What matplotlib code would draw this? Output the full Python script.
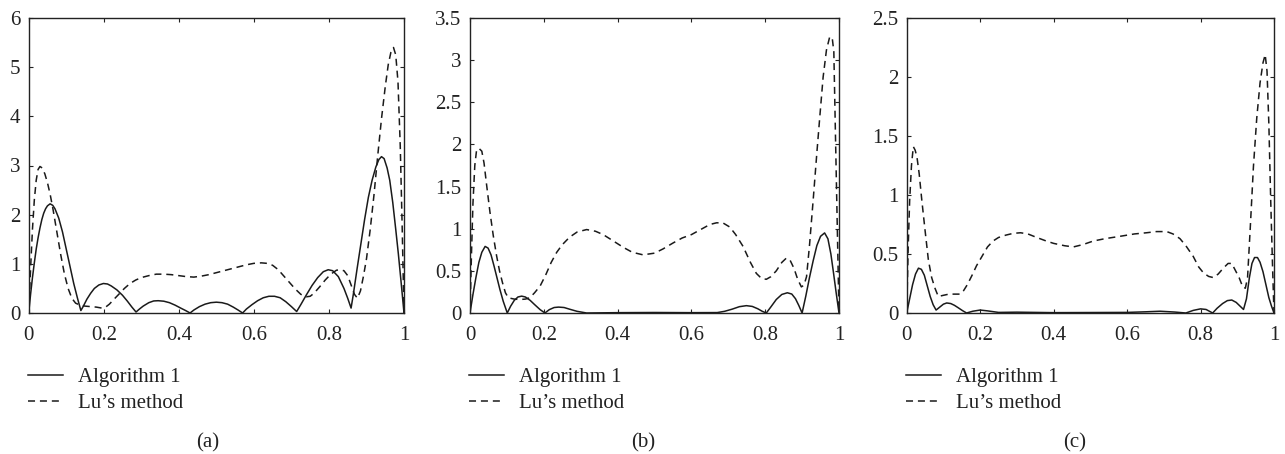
import matplotlib
matplotlib.use("Agg")
import matplotlib.pyplot as plt

plt.rcParams['font.family'] = ['Liberation Serif', 'DejaVu Serif']

# ---------------- Panel (a) ----------------
xa_alg = [0, 0.005, 0.01, 0.015, 0.02, 0.025, 0.03, 0.035, 0.04, 0.045, 0.05, 0.057, 0.064, 0.07,
          0.08, 0.09, 0.10, 0.11, 0.12, 0.13, 0.139,
          0.145, 0.155, 0.165, 0.175, 0.187, 0.199, 0.21, 0.22, 0.235, 0.25, 0.263, 0.275, 0.286,
          0.295, 0.305, 0.32, 0.333, 0.345, 0.36, 0.375, 0.39, 0.405, 0.418, 0.43,
          0.44, 0.455, 0.47, 0.485, 0.5, 0.515, 0.53, 0.545, 0.558, 0.57,
          0.58, 0.595, 0.61, 0.625, 0.64, 0.655, 0.67, 0.685, 0.70, 0.714,
          0.725, 0.74, 0.755, 0.77, 0.785, 0.798, 0.81, 0.825, 0.84, 0.85, 0.859,
          0.865, 0.875, 0.885, 0.895, 0.905, 0.915, 0.925, 0.933, 0.94, 0.947, 0.955, 0.962,
          0.97, 0.978, 0.985, 0.992, 1.0]
ya_alg = [0, 0.38, 0.72, 1.02, 1.3, 1.53, 1.73, 1.9, 2.03, 2.12, 2.18, 2.22, 2.19, 2.12,
          1.93, 1.65, 1.3, 0.95, 0.6, 0.3, 0.05,
          0.13, 0.28, 0.4, 0.5, 0.57, 0.6, 0.59, 0.55, 0.47, 0.36, 0.24, 0.12, 0.02,
          0.08, 0.14, 0.21, 0.245, 0.25, 0.24, 0.21, 0.16, 0.1, 0.05, 0.0,
          0.06, 0.13, 0.18, 0.21, 0.22, 0.21, 0.18, 0.12, 0.06, 0.0,
          0.08, 0.17, 0.25, 0.31, 0.34, 0.34, 0.31, 0.23, 0.13, 0.03,
          0.17, 0.37, 0.56, 0.72, 0.84, 0.88, 0.86, 0.74, 0.5, 0.3, 0.1,
          0.38, 0.9, 1.4, 1.9, 2.35, 2.7, 2.97, 3.12, 3.18, 3.14, 2.95, 2.7,
          2.25, 1.7, 1.2, 0.65, 0.0]
xa_lu = [0, 0.005, 0.01, 0.015, 0.02, 0.025, 0.030, 0.036, 0.043, 0.05, 0.057, 0.065, 0.075,
         0.085, 0.095, 0.105, 0.115, 0.125, 0.137, 0.15, 0.165, 0.18, 0.195, 0.205, 0.215,
         0.226, 0.24, 0.255, 0.27, 0.285, 0.3, 0.32, 0.34, 0.36, 0.38, 0.4, 0.42, 0.44,
         0.46, 0.48, 0.5, 0.52, 0.54, 0.56, 0.58, 0.6, 0.62, 0.635, 0.65, 0.665, 0.68,
         0.695, 0.71, 0.725, 0.74, 0.75, 0.76, 0.775, 0.79, 0.805, 0.82, 0.83, 0.84,
         0.85, 0.86, 0.868, 0.876, 0.884, 0.892, 0.9, 0.91, 0.92, 0.93, 0.94, 0.95,
         0.958, 0.965, 0.972, 0.978, 0.984, 0.99, 0.995, 1.0]
ya_lu = [0, 0.9, 1.7, 2.3, 2.7, 2.92, 2.98, 2.95, 2.83, 2.65, 2.42, 2.1, 1.65,
         1.2, 0.8, 0.5, 0.3, 0.2, 0.16, 0.14, 0.13, 0.12, 0.1, 0.12, 0.18,
         0.27, 0.38, 0.5, 0.6, 0.67, 0.72, 0.76, 0.79, 0.79, 0.78, 0.76, 0.74, 0.73,
         0.75, 0.78, 0.82, 0.86, 0.9, 0.94, 0.98, 1.01, 1.02, 1.01, 0.97, 0.88, 0.75,
         0.62, 0.49, 0.38, 0.33, 0.34, 0.4, 0.53, 0.67, 0.79, 0.87, 0.88, 0.86,
         0.76, 0.55, 0.38, 0.3, 0.45, 0.75, 1.1, 1.7, 2.4, 3.2, 3.95, 4.6,
         5.05, 5.3, 5.4, 5.25, 4.7, 3.4, 1.8, 0.0]

# ---------------- Panel (b) ----------------
xb_alg = [0, 0.008, 0.016, 0.024, 0.032, 0.041, 0.049, 0.057, 0.065, 0.073, 0.081, 0.09, 0.101,
          0.11, 0.12, 0.13, 0.14, 0.15, 0.163, 0.175, 0.19, 0.203,
          0.215, 0.228, 0.24, 0.255, 0.27, 0.29, 0.316, 0.4, 0.5, 0.6, 0.67,
          0.69, 0.71, 0.73, 0.749, 0.765, 0.78, 0.792, 0.803,
          0.815, 0.83, 0.845, 0.86, 0.872, 0.882, 0.891, 0.9,
          0.91, 0.92, 0.93, 0.94, 0.95, 0.961, 0.97, 0.978, 0.985, 0.992, 1.0]
yb_alg = [0, 0.22, 0.42, 0.6, 0.72, 0.79, 0.77, 0.69, 0.56, 0.42, 0.28, 0.14, 0.0,
          0.08, 0.15, 0.19, 0.2, 0.19, 0.15, 0.1, 0.04, 0.0,
          0.04, 0.065, 0.07, 0.065, 0.045, 0.02, 0.0, 0.004, 0.006, 0.004, 0.005,
          0.02, 0.045, 0.075, 0.087, 0.078, 0.05, 0.02, 0.0,
          0.07, 0.16, 0.22, 0.24, 0.225, 0.17, 0.09, 0.0,
          0.2, 0.42, 0.62, 0.8, 0.91, 0.95, 0.88, 0.7, 0.48, 0.25, 0.0]
xb_lu = [0, 0.004, 0.008, 0.013, 0.018, 0.025, 0.032, 0.038, 0.045, 0.054, 0.063, 0.072,
         0.08, 0.088, 0.096, 0.104, 0.12, 0.135, 0.15, 0.162, 0.175, 0.19, 0.205, 0.22,
         0.235, 0.25, 0.27, 0.29, 0.316, 0.34, 0.361, 0.39, 0.415, 0.44, 0.469, 0.5,
         0.523, 0.55, 0.575, 0.6, 0.625, 0.65, 0.668, 0.685, 0.704, 0.72, 0.74, 0.76,
         0.776, 0.79, 0.803, 0.815, 0.83, 0.845, 0.857, 0.867, 0.878, 0.888, 0.898,
         0.905, 0.912, 0.92, 0.93, 0.94, 0.948, 0.957, 0.966, 0.975, 0.982, 0.986,
         0.99, 0.995, 1.0]
yb_lu = [0, 0.7, 1.3, 1.75, 1.94, 1.95, 1.92, 1.78, 1.52, 1.2, 0.92, 0.68,
         0.5, 0.36, 0.24, 0.18, 0.165, 0.16, 0.165, 0.18, 0.24, 0.32, 0.45, 0.6,
         0.72, 0.81, 0.9, 0.96, 0.99, 0.97, 0.93, 0.85, 0.78, 0.72, 0.69, 0.71,
         0.76, 0.83, 0.89, 0.93, 0.99, 1.05, 1.07, 1.07, 1.02, 0.93, 0.79, 0.6,
         0.47, 0.41, 0.4, 0.43, 0.5, 0.6, 0.65, 0.63, 0.53, 0.4, 0.31,
         0.33, 0.43, 0.8, 1.34, 1.9, 2.33, 2.8, 3.12, 3.28, 3.25, 3.1,
         2.2, 1.1, 0.0]

# ---------------- Panel (c) ----------------
xc_alg = [0, 0.008, 0.016, 0.024, 0.032, 0.04, 0.048, 0.056, 0.064, 0.072, 0.08, 0.09, 0.1,
          0.109, 0.12, 0.13, 0.14, 0.152, 0.163, 0.18, 0.2, 0.22, 0.25, 0.3, 0.4, 0.5,
          0.6, 0.65, 0.69, 0.73, 0.76, 0.78, 0.80, 0.815, 0.833, 0.845, 0.86, 0.873,
          0.885, 0.897, 0.907, 0.917, 0.925, 0.933, 0.94, 0.947, 0.955, 0.962, 0.97,
          0.978, 0.986, 0.993, 1.0]
yc_alg = [0, 0.12, 0.24, 0.33, 0.38, 0.37, 0.32, 0.23, 0.14, 0.07, 0.025, 0.05, 0.075,
          0.085, 0.08, 0.065, 0.045, 0.02, 0.0, 0.015, 0.025, 0.018, 0.005, 0.007, 0.003, 0.004,
          0.005, 0.01, 0.015, 0.008, 0.0, 0.022, 0.035, 0.03, 0.0, 0.04, 0.08, 0.105,
          0.11, 0.09, 0.06, 0.03, 0.12, 0.3, 0.42, 0.47, 0.47, 0.43, 0.35,
          0.24, 0.13, 0.06, 0.0]
xc_lu = [0, 0.004, 0.008, 0.013, 0.018, 0.023, 0.028, 0.034, 0.041, 0.05, 0.059, 0.068,
         0.077, 0.086, 0.1, 0.115, 0.13, 0.145, 0.155, 0.165, 0.178, 0.19, 0.205, 0.22,
         0.235, 0.25, 0.27, 0.29, 0.31, 0.33, 0.354, 0.38, 0.4, 0.43, 0.454, 0.48,
         0.508, 0.54, 0.581, 0.62, 0.653, 0.68, 0.708, 0.725, 0.744, 0.76, 0.78, 0.795,
         0.808, 0.822, 0.835, 0.848, 0.862, 0.875, 0.885, 0.895, 0.905, 0.915, 0.922,
         0.928, 0.935, 0.944, 0.953, 0.962, 0.97, 0.976, 0.981, 0.986, 0.991, 0.996, 1.0]
yc_lu = [0, 0.55, 0.95, 1.25, 1.41, 1.38, 1.32, 1.18, 0.96, 0.7, 0.45, 0.3,
         0.21, 0.14, 0.15, 0.16, 0.16, 0.16, 0.19, 0.24, 0.32, 0.4, 0.48, 0.56,
         0.61, 0.64, 0.66, 0.675, 0.68, 0.67, 0.64, 0.61, 0.59, 0.57, 0.56, 0.58,
         0.61, 0.63, 0.65, 0.67, 0.68, 0.69, 0.69, 0.67, 0.63, 0.57, 0.48, 0.39,
         0.34, 0.31, 0.3, 0.33, 0.38, 0.42, 0.42, 0.36, 0.3, 0.22, 0.21,
         0.3, 0.7, 1.24, 1.65, 1.95, 2.12, 2.19, 2.05, 1.6, 0.96, 0.4, 0.0]

panels = [
    ("(a)", xa_alg, ya_alg, xa_lu, ya_lu, 6, [0, 1, 2, 3, 4, 5, 6], ["0", "1", "2", "3", "4", "5", "6"]),
    ("(b)", xb_alg, yb_alg, xb_lu, yb_lu, 3.5, [0, 0.5, 1, 1.5, 2, 2.5, 3, 3.5],
     ["0", "0.5", "1", "1.5", "2", "2.5", "3", "3.5"]),
    ("(c)", xc_alg, yc_alg, xc_lu, yc_lu, 2.5, [0, 0.5, 1, 1.5, 2, 2.5],
     ["0", "0.5", "1", "1.5", "2", "2.5"]),
]
xticks = [0, 0.2, 0.4, 0.6, 0.8, 1]
xticklabels = ["0", "0.2", "0.4", "0.6", "0.8", "1"]

W, H = 1285, 454
fig = plt.figure(figsize=(W / 100, H / 100), dpi=100)
boxes = [(28.7, 404), (470, 839), (906.7, 1274)]
label_x = [208, 643, 1075]
top_px, bot_px = 18, 313
FS = 15
INK = "#222222"

for (label, xs, ys, xl, yl, ymax, yt, ytl), (l, r), lx in zip(panels, boxes, label_x):
    ax = fig.add_axes([l / W, 1 - bot_px / H, (r - l) / W, (bot_px - top_px) / H])
    ax.plot(xs, ys, color="#1a1a1a", lw=1.1, ls="-", label="Algorithm 1")
    ax.plot(xl, yl, color="#1a1a1a", lw=1.1, ls=(0, (4.6, 3.2)), label="Lu\u2019s method")
    ax.set_xlim(0, 1)
    ax.set_ylim(0, ymax)
    ax.set_xticks(xticks)
    ax.set_xticklabels(xticklabels)
    ax.set_yticks(yt)
    ax.set_yticklabels(ytl)
    ax.tick_params(direction="in", length=3, width=0.8, top=True, right=True,
                   labelsize=FS, colors=INK)
    ax.tick_params(axis="x", pad=9.5)
    ax.tick_params(axis="y", pad=6)
    for s in ax.spines.values():
        s.set_linewidth(1.0)
        s.set_color(INK)
    leg = ax.legend(loc="upper left", bbox_to_anchor=(-0.003, -0.186), frameon=False,
                    fontsize=FS, handlelength=1.7, handletextpad=0.7, labelspacing=0.3,
                    borderaxespad=0, borderpad=0)
    for t in leg.get_texts():
        t.set_color(INK)
    fig.text(lx / W, 1 - 443 / H, label, ha="center", va="center", fontsize=FS, color=INK)

fig.savefig("out.png", dpi=100)
